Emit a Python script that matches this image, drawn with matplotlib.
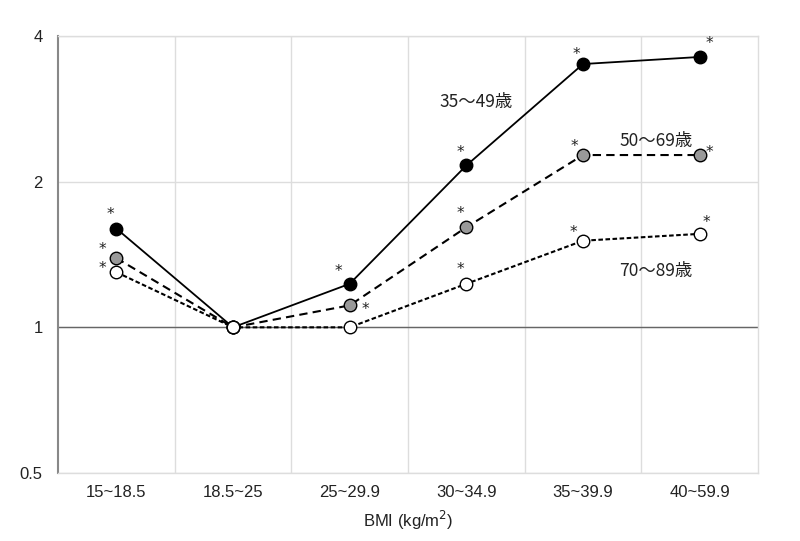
import matplotlib
matplotlib.use("Agg")
import matplotlib.pyplot as plt
from matplotlib.ticker import FixedLocator, NullLocator, FixedFormatter

categories = ["15~18.5", "18.5~25", "25~29.9", "30~34.9", "35~39.9", "40~59.9"]
series_names = ["35〜49歳", "50〜69歳", "70〜89歳"]
v_35_49 = [1.60, 1.00, 1.23, 2.16, 3.50, 3.62]
v_50_69 = [1.39, 1.00, 1.11, 1.61, 2.27, 2.27]
v_70_89 = [1.30, 1.00, 1.00, 1.23, 1.51, 1.56]
sig_35_49 = [True, False, True, True, True, True]
sig_50_69 = [True, False, True, True, True, True]
sig_70_89 = [True, False, False, True, True, True]
y_ticks = [0.5, 1, 2, 4]
y_tick_labels = ["0.5", "1", "2", "4"]
x_label = "BMI (kg/m$^2$)"

plt.rcParams['font.family'] = ['Liberation Sans', 'Noto Sans CJK JP', 'DejaVu Sans']

fig = plt.figure(figsize=(8, 5.41), dpi=100)
ax = fig.add_axes([0.0725, 0.1257, 0.875, 0.8078])

x = list(range(len(categories)))

styles = [
    dict(color="black", lw=1.3, ls="-", mfc="black"),
    dict(color="black", lw=1.5, ls=(0, (4, 2.5)), mfc="#999999"),
    dict(color="black", lw=1.5, ls=(0, (2.2, 1.2)), mfc="white"),
]
data = [v_35_49, v_50_69, v_70_89]
sigs = [sig_35_49, sig_50_69, sig_70_89]

for vals, st in zip(data, styles):
    ax.plot(x, vals, color=st["color"], lw=st["lw"], ls=st["ls"], marker="o",
            markersize=9, markerfacecolor=st["mfc"], markeredgecolor="black",
            markeredgewidth=1.0, zorder=4)
# reference point drawn as white on top
ax.plot([1], [v_70_89[1]], marker="o", markersize=9, mfc="white", mec="black", mew=1.0, ls="none", zorder=5)

# star offsets (points) per series and category
star_offsets = [
    [(-4, 10), None, (-8, 9), (-4, 9), (-5, 7), (7, 10)],
    [(-10, 6), None, (11, -3), (-4, 10), (-6, 6), (7, 2)],
    [(-10, 3), None, None, (-4, 10), (-7, 6), (5, 8)],
]
for vals, sg, offs in zip(data, sigs, star_offsets):
    for i, (v, s) in enumerate(zip(vals, sg)):
        if s and offs[i] is not None:
            ax.annotate("*", (i, v), xytext=offs[i], textcoords="offset points",
                        ha="center", va="center", fontsize=11, color="#222222",
                        family="DejaVu Sans")

# series labels
label_pos = [(2.77, 2.92), (4.31, 2.43), (4.31, 1.31)]
for name, (lx, ly) in zip(series_names, label_pos):
    ax.text(lx, ly, name, fontsize=12.5, color="#222222", ha="left", va="center",
            family=["Noto Sans CJK JP", "DejaVu Sans"])

ax.set_yscale("log", base=2)
ax.set_ylim(0.5, 4)
ax.set_xlim(-0.5, len(categories) - 0.5)
ax.yaxis.set_major_locator(FixedLocator(y_ticks))
ax.yaxis.set_major_formatter(FixedFormatter(y_tick_labels))
ax.yaxis.set_minor_locator(NullLocator())
ax.set_xticks(x)
ax.set_xticklabels(categories)
ax.set_xticks([i + 0.5 for i in x[:-1]], minor=True)

ax.grid(True, which="major", axis="y", color="#dddddd", lw=1.0)
ax.grid(True, which="minor", axis="x", color="#dddddd", lw=1.0)
ax.axhline(1, color="#666666", lw=1.0, zorder=2)
ax.set_axisbelow(True)

for sp in ["top", "right", "bottom"]:
    ax.spines[sp].set_color("#dddddd")
    ax.spines[sp].set_linewidth(1.0)
ax.spines["left"].set_color("#888888")
ax.spines["left"].set_linewidth(1.5)

ax.tick_params(axis="both", which="both", length=0, labelsize=12, colors="#222222")
ax.tick_params(axis="x", pad=9)
ax.tick_params(axis="y", pad=11)
ax.set_xlabel(x_label, fontsize=12, color="#222222", labelpad=6)

fig.savefig("out.png", dpi=100)
